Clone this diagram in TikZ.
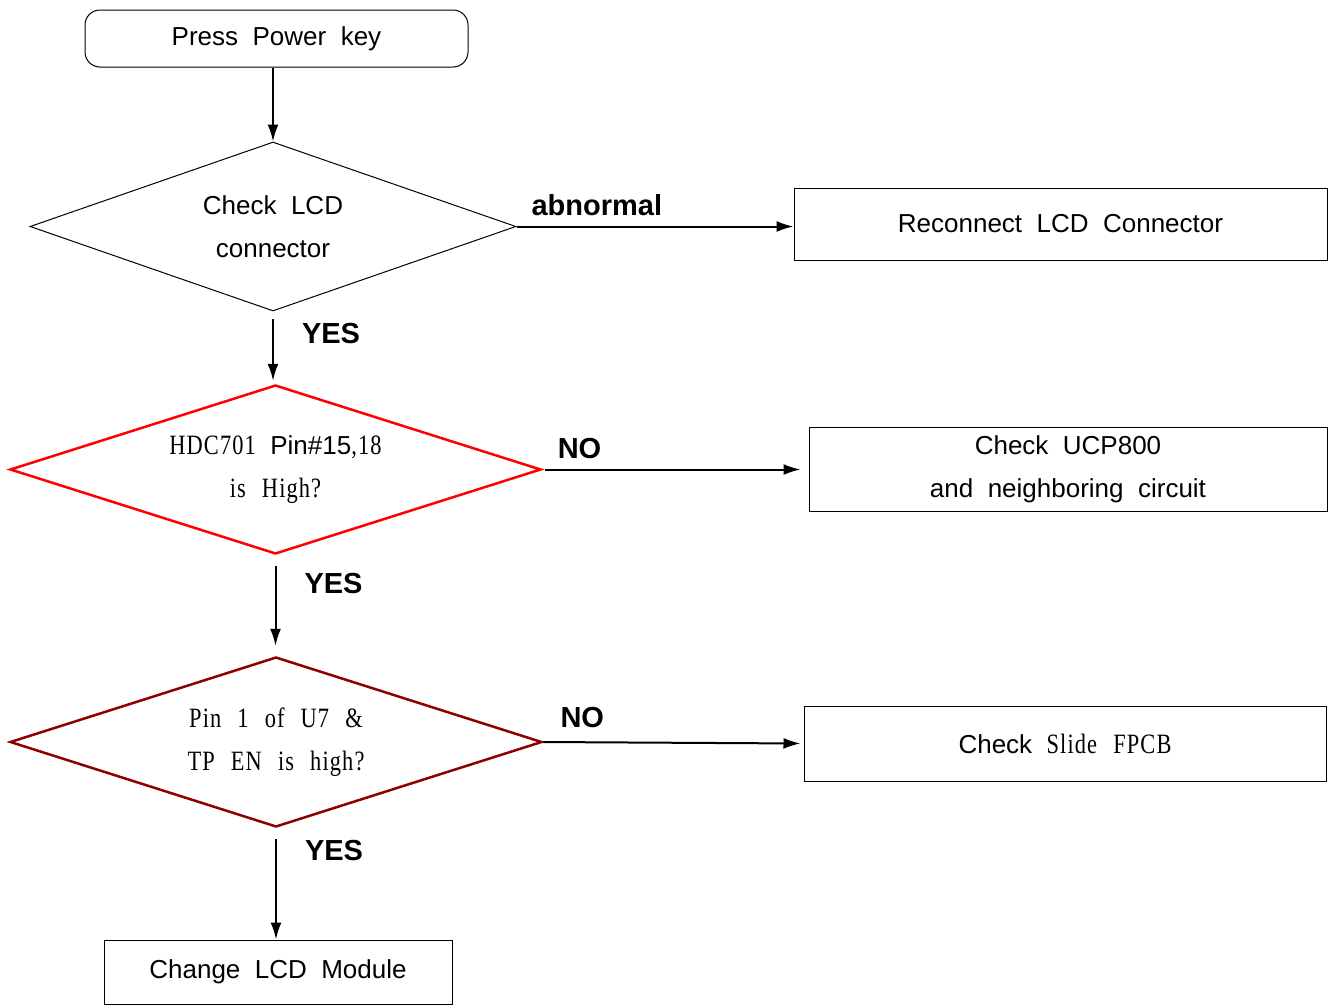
\documentclass[tikz,border=0pt]{standalone}
\usepackage{fontspec}
\setmainfont[WordSpace=2]{Liberation Sans}
\newfontfamily\mingfont[FakeStretch=0.8,LetterSpace=4,WordSpace=2.4]{Liberation Serif}
\usetikzlibrary{shapes.geometric,arrows.meta}
\definecolor{darkred}{RGB}{140,0,0}
\begin{document}
\begin{tikzpicture}[x=1pt,y=-1pt,
	every node/.style={font=\fontsize{26}{43}\selectfont,align=center},
	box/.style={draw,line width=1pt},
	dia/.style={draw,diamond,aspect=2.9,inner sep=0pt,line width=1pt,minimum width=486pt,minimum height=169pt},
	arr/.style={line width=2pt,-{Latex[length=17pt,width=11pt]}},
	lbl/.style={font=\fontsize{29}{29}\selectfont\bfseries,inner sep=2pt},
	ming/.style={font=\fontsize{28}{43}\mingfont}]
	\useasboundingbox (0,0) rectangle (1328,1007);
	% left column
	\node[box,rounded corners=15pt,minimum width=383pt,minimum height=57pt] (power) at (276.5,38.5) {Press Power key};
	\node[dia] (lcd) at (273,226.5) {Check LCD\\connector};
	\node[dia,draw=red,line width=2.5pt,minimum width=531pt] (hdc) at (275.5,469.5) {{\fontsize{28}{43}\mingfont HDC701} Pin\#15{\fontsize{28}{43}\mingfont ,18}\\{\fontsize{28}{43}\mingfont is High?}};
	\node[dia,ming,draw=darkred,line width=2.5pt,minimum width=532pt,minimum height=170pt] (pin) at (276,742) {Pin 1 of U7 \&\\TP EN is high?};
	\node[box,minimum width=348pt,minimum height=64pt] (lcm) at (278,972) {Change LCD Module};
	% right column
	\node[box,minimum width=533pt,minimum height=72pt] (reconnect) at (1060.5,224) {Reconnect LCD Connector};
	\node[box,minimum width=518pt,minimum height=84pt] (ucp) at (1068,469) {Check UCP800\\and neighboring circuit};
	\node[box,minimum width=522pt,minimum height=75pt] (fpcb) at (1065,743.5) {Check {\fontsize{28}{43}\mingfont Slide FPCB}};
	% connectors
	\draw[arr] (lcd.north |- power.south) -- (lcd.north);
	\draw[arr] (lcd.east) -- node[lbl,above=8pt,pos=0.29] (abn) {abnormal} (lcd.east -| reconnect.west);
	\draw[arr,shorten <=7pt,shorten >=3pt] (lcd.south) -- node[lbl,right=26pt,pos=0.3] (yes1) {YES} (lcd.south |- hdc.north);
	\draw[arr,shorten <=3pt,shorten >=8pt] (hdc.east) -- node[lbl,above=8pt,pos=0.14] (no1) {NO} (hdc.east -| ucp.west);
	\draw[arr,shorten <=11pt,shorten >=10pt] (hdc.south) -- node[lbl,right=26pt,pos=0.28] (yes2) {YES} (hdc.south |- pin.north);
	\draw[arr,shorten >=3pt] (pin.east) -- node[lbl,above=11pt,pos=0.15] (no2) {NO} (fpcb.west);
	\draw[arr,shorten <=11pt] (pin.south) -- node[lbl,right=26pt,pos=0.2] (yes3) {YES} (pin.south |- lcm.north);
\end{tikzpicture}
\end{document}
